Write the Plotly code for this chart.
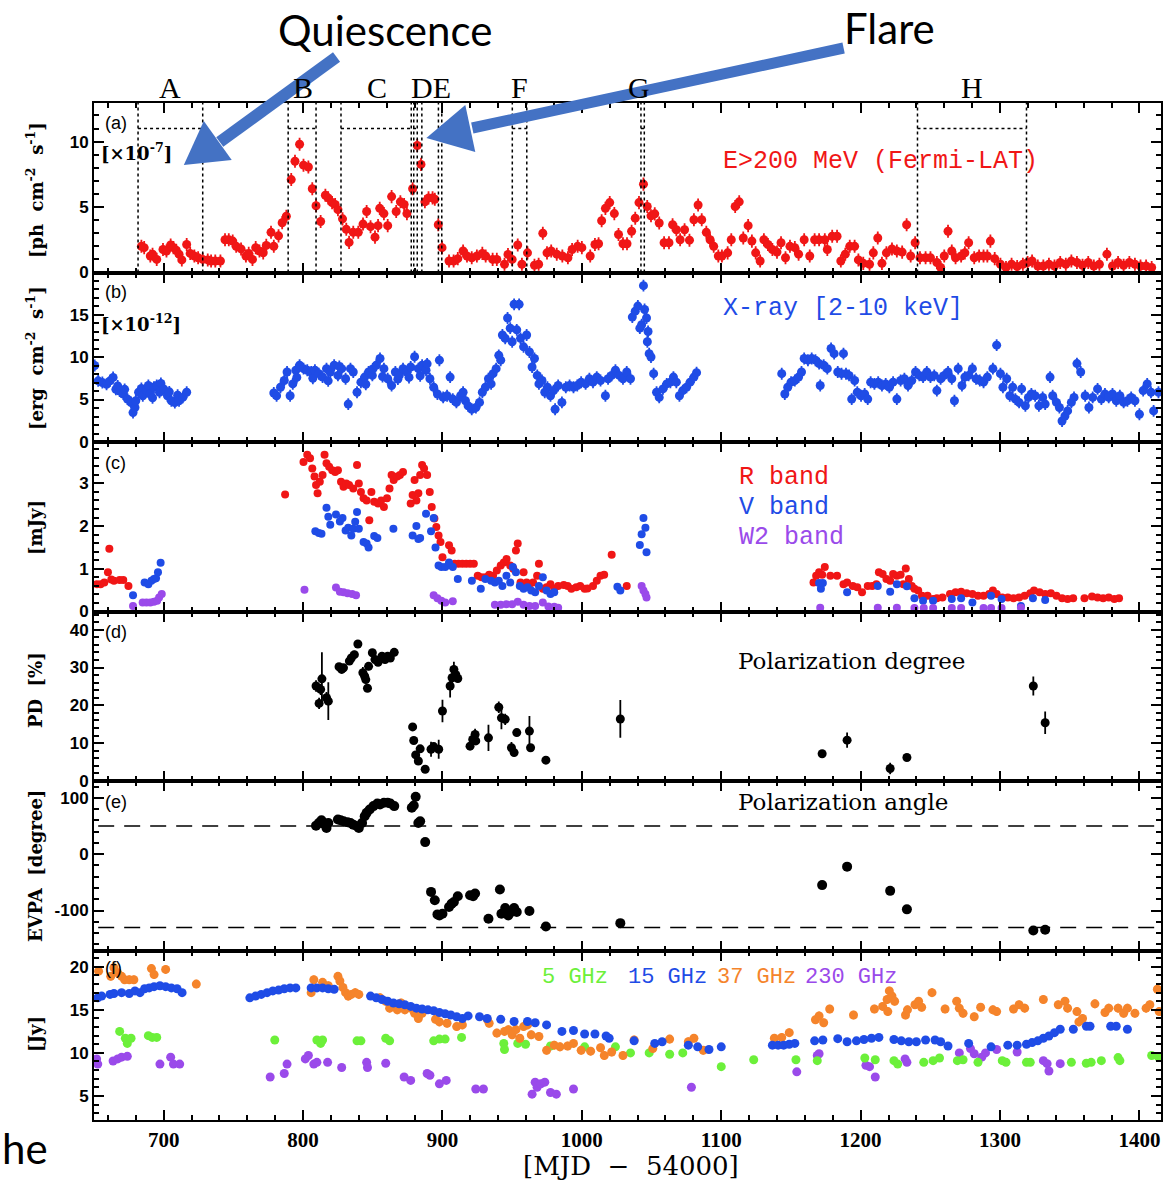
import plotly.graph_objects as go
from plotly.subplots import make_subplots

# ---------------- data ----------------
# (a) gamma-ray flux E>200 MeV [1e-7 ph cm-2 s-1]
gam_x = [684, 686, 690.4, 692, 695, 699.5, 702, 705, 707, 709,
         711, 713, 716.5, 719, 722, 724.7, 728, 731.6, 734, 737,
         740.7, 744, 746.7, 749.5, 752, 755.5, 759, 761, 763.7, 766,
         768.7, 771.4, 773.6, 777, 779, 782.4, 785, 788, 791.5, 794.2,
         797.5, 800.3, 803.8, 806.6, 809.3, 812.6, 816, 818, 820.8, 823,
         825, 828.3, 831, 833, 836, 839.6, 843, 845.6, 848.4, 851.6,
         853.8, 855, 858, 860.7, 863.5, 866.8, 869.8, 872.5, 874.5, 878.6,
         881.9, 884.6, 887.4, 890, 892.9, 894.5, 897, 899.7, 904.7, 908,
         911, 914.8, 917.6, 921, 924.7, 928.6, 931, 936, 939, 944.5,
         947, 950, 954, 957, 961, 966, 969, 972, 975, 978,
         982, 986, 990, 993, 997, 1000, 1006, 1009.4, 1012, 1014.2,
         1016.9, 1020, 1023.3, 1026.3, 1029.5, 1032.4, 1035.7, 1038.3, 1041, 1044.2,
         1046.9, 1049.6, 1052.3, 1055.5, 1059, 1062.5, 1065.1, 1067.8, 1070.5, 1073.7,
         1077.2, 1080.4, 1083.4, 1086, 1089.3, 1092, 1094.6, 1097.9, 1100.5, 1104.6,
         1107.2, 1110, 1112.9, 1115.8, 1119.3, 1122, 1124.7, 1127.9, 1130.6, 1133.5,
         1136.7, 1140, 1142.9, 1146.1, 1149.3, 1152.8, 1155.5, 1159.5, 1163.5, 1167,
         1170.2, 1174.3, 1176.1, 1179.6, 1183.1, 1185.8, 1189, 1192.2, 1195.7, 1198.4,
         1201.9, 1206.4, 1209.1, 1212.3, 1215.3, 1218.5, 1222.5, 1226, 1229.8, 1233,
         1235.9, 1239.1, 1242.6, 1246.6, 1250.1, 1254.7, 1257.4, 1260, 1262.7, 1265.4,
         1268.1, 1272.1, 1274.8, 1277.5, 1281.5, 1285, 1288.2, 1290.9, 1293.1, 1296.2,
         1300.3, 1304.3, 1308.3, 1312.3, 1316.4, 1319.8, 1323, 1327.1, 1331.1, 1335.1,
         1339.1, 1343.2, 1347.2, 1351.2, 1355.2, 1359.2, 1363.3, 1367.3, 1371.3, 1376.7,
         1380.7, 1384.7, 1388.7, 1392.8, 1396.8, 1400.8, 1404.8, 1408.8]
gam_y = [2.0, 1.9, 1.26, 1.4, 1.0, 1.76, 1.64, 2.1, 1.9, 1.7,
         1.4, 0.96, 2.14, 1.46, 1.26, 1.13, 1.0, 0.96, 0.88, 0.88,
         0.88, 2.5, 2.5, 2.4, 2.0, 1.8, 1.26, 1.46, 1.0, 1.9,
         1.64, 1.5, 2.07, 3.07, 2.0, 2.8, 3.8, 4.3, 7.1, 8.5,
         9.8, 8.2, 8.06, 6.4, 5.1, 3.9, 5.9, 5.7, 5.34, 5.2,
         4.8, 4.1, 3.3, 2.3, 3.07, 3.07, 3.7, 4.66, 3.5, 2.7,
         3.58, 4.9, 4.5, 3.58, 5.8, 4.66, 5.4, 5.2, 4.5, 6.4,
         9.7, 8.26, 5.4, 5.7, 5.7, 5.6, 3.65, 1.9, 0.88, 0.88,
         1.06, 1.64, 1.26, 1.13, 1.26, 1.46, 1.26, 1.0, 1.0, 0.63,
         1.38, 1.0, 2.1, 0.63, 1.5, 0.55, 0.63, 3.0, 1.5, 1.64,
         1.4, 1.26, 1.13, 1.76, 2.0, 1.9, 1.26, 2.14, 2.2, 3.95,
         4.9, 5.34, 4.5, 2.9, 2.2, 2.2, 3.15, 4.15, 5.34, 6.75,
         5.04, 4.33, 4.48, 3.78, 2.27, 2.27, 3.65, 3.27, 2.5, 3.27,
         2.47, 4.03, 5.16, 4.03, 3.07, 2.5, 2.0, 1.26, 1.26, 1.5,
         2.5, 5.04, 5.4, 2.64, 3.58, 2.4, 1.5, 0.88, 2.5, 2.14,
         1.76, 1.56, 2.27, 1.13, 2.0, 1.9, 1.4, 2.5, 1.26, 2.5,
         2.5, 2.5, 1.76, 2.77, 2.77, 0.88, 1.4, 2.0, 2.0, 0.96,
         0.7, 0.63, 1.5, 2.64, 0.7, 1.5, 1.8, 1.64, 1.56, 3.65,
         1.26, 2.27, 1.13, 1.13, 1.13, 0.76, 0.38, 1.26, 3.15, 1.64,
         1.13, 1.26, 1.5, 2.27, 1.13, 1.26, 1.26, 1.26, 2.4, 1.06,
         0.63, 0.38, 0.63, 0.45, 0.63, 0.76, 0.88, 0.5, 0.5, 0.63,
         0.5, 0.76, 0.63, 0.88, 0.76, 0.55, 0.76, 0.5, 0.63, 1.4,
         0.5, 0.76, 0.55, 0.76, 0.63, 0.5, 0.5, 0.38]

# (b) X-ray 2-10 keV [1e-12 erg cm-2 s-1]
xr_x = [650.5, 653, 656, 659, 661.5, 663.7, 665.7, 667, 668.4, 671,
        672, 674, 676.6, 678, 679.4, 680, 682, 684, 685, 687.6,
        689, 690.4, 692, 693, 695, 697, 698, 700, 702.7, 704,
        705.5, 708, 710, 711, 713.7, 716.5,
        779, 781, 783.8, 786.5, 788.5, 790.7, 792.6, 794.8, 795.5, 797.5,
        800.3, 803, 805.8, 807, 808.5, 811.3, 814, 816.8, 818, 819.5,
        822.3, 825, 826, 827.7, 830.5, 832.4, 834, 836, 838.7, 841.5,
        844.2, 845, 847, 849.7, 850, 852.5, 855.2, 857, 858, 860.7,
        863.5, 866.2, 868, 869, 871.7, 874.5, 876, 877.2, 880, 882.7,
        884, 885.4, 888.2, 889, 891, 893.7, 896.4, 897.8, 900.5, 903.3,
        905.5, 907.4, 910, 913, 914.8, 916.5, 918.4, 921, 924, 926.6,
        928.6, 930.8, 933, 934.9, 936.3, 938.5, 940.4, 941.8, 943, 945,
        946.7, 948.6, 950, 951.4, 953.3, 955, 956, 958.2, 960.4, 962.4,
        964.3, 966, 968, 969.2, 971.4, 973.4, 975.3, 977.5, 979.7, 980.8,
        983, 985.7, 988.5, 991.2, 994, 996.7, 999.5,
        1002.7, 1005.4, 1008, 1010.7, 1013.4, 1016.9, 1018.8, 1021.4, 1024.1, 1026.8,
        1029.5, 1032.2, 1034.9, 1036.2, 1038.3, 1040.2, 1041.6, 1042.9, 1044.2, 1045,
        1046.4, 1047.5, 1047, 1048.3, 1049.6, 1051.5, 1053.6, 1055.5, 1058.2, 1060.9,
        1063.5, 1065.7, 1067.8, 1070, 1072.4, 1075.1, 1077.7, 1080.4, 1082.3,
        1143.4, 1145.6, 1147.7, 1150.1, 1152.8, 1155.5, 1157.6, 1159.5, 1162.2, 1164.9,
        1167.6, 1170.2, 1171, 1173.5, 1176.1, 1178.8, 1181, 1183.6, 1186.3, 1187.7,
        1189.5, 1191.7, 1193.6, 1195.7, 1197.6, 1200.3, 1202.9, 1205.1, 1207.2, 1209.9,
        1212.6, 1215.3, 1218, 1220.6, 1223.3, 1226, 1228.7, 1231.4, 1234, 1236.7,
        1239.4, 1242.1, 1244.8, 1247.5, 1250.1, 1252.8, 1254.7, 1257.4, 1260, 1262.7,
        1265.4, 1267.3, 1270, 1272.7, 1274.8, 1277.5, 1280.2, 1282.8, 1285.5, 1288.2,
        1290.9, 1294.9, 1297.6, 1300.3, 1302.1, 1304.8, 1307, 1309.1, 1311, 1313.7,
        1315.5, 1318.2, 1320.4, 1322.5, 1325.2, 1327.9, 1330.6, 1332.4, 1335.9, 1337.8,
        1340.5, 1342.6, 1344.5, 1346.6, 1348.5, 1351.2, 1353.1, 1355.2, 1357.9, 1361.1,
        1363.8, 1366.5, 1370, 1372.7, 1375.3, 1378, 1380.7, 1383.4, 1386, 1388.7,
        1391.4, 1394.1, 1396.8, 1400, 1402.7, 1405.6, 1408.3, 1410.2, 1413.7]
xr_y = [9.0, 7.2, 7.0, 6.8, 7.2, 7.6, 6.2, 6.6, 6.0, 5.65,
        6.2, 5.05, 4.65, 3.46, 4.06, 4.85, 5.85, 6.3, 5.45, 6.05,
        6.65, 5.65, 5.2, 6.45, 6.65, 5.85, 6.9, 6.25, 5.45, 5.9,
        4.85, 4.65, 5.5, 4.85, 5.25, 5.85,
        5.77, 5.45, 6.45, 7.24, 8.24, 5.45, 6.84, 8.44, 7.6, 9.03,
        8.63, 8.44, 8.24, 7.5, 8.44, 8.04, 7.64, 8.63, 7.2, 8.24,
        9.03, 7.84, 8.9, 8.63, 7.44, 4.46, 8.63, 8.24, 5.85, 7.04,
        7.64, 6.8, 8.24, 7.84, 8.6, 9.03, 9.83, 7.7, 8.63, 7.44,
        6.65, 8.24, 7.4, 7.84, 8.63, 8.24, 7.6, 8.83, 10.03, 8.63,
        7.8, 9.03, 8.44, 9.2, 7.44, 6.45, 5.65, 9.63, 5.25, 5.45,
        7.64, 5.05, 4.66, 5.45, 5.85, 4.85, 4.26, 3.86, 4.06, 4.66,
        5.85, 6.45, 7.44, 6.84, 8.04, 8.63, 10.2, 9.63, 12.6, 12.2,
        14.6, 13.4, 11.8, 16.2, 13.2, 16.2, 12.2, 11.2, 12.6, 10.6,
        8.83, 9.83, 7.84, 6.84, 7.24, 5.85, 6.45, 5.45, 6.05, 3.86,
        6.65, 4.66, 6.45, 6.65, 6.45, 6.65, 7.04,
        6.84, 7.44, 7.04, 7.64, 7.24, 5.45, 7.44, 7.84, 8.44, 7.84,
        7.44, 8.24, 7.44, 14.7, 15.4, 16.0, 13.4, 13.8, 18.4, 15.6,
        14.6, 13.0, 11.8, 10.4, 10.0, 8.04, 5.85, 5.25, 6.25, 6.84,
        7.04, 7.64, 7.04, 5.45, 6.05, 6.45, 7.04, 7.64, 8.16,
        8.04, 5.65, 6.45, 7.04, 7.24, 7.64, 8.24, 9.83, 9.63, 9.83,
        9.63, 9.23, 6.65, 9.03, 8.63, 11.0, 10.4, 8.24, 8.04, 10.4,
        8.04, 7.84, 5.05, 7.24, 5.85, 5.45, 5.65, 5.05, 7.04, 6.84,
        7.04, 6.65, 6.84, 6.45, 7.04, 5.05, 7.24, 7.44, 6.65, 7.24,
        8.24, 7.84, 7.64, 8.24, 7.64, 7.84, 6.05, 7.44, 7.84, 8.24,
        7.44, 4.86, 8.63, 6.65, 7.64, 7.84, 8.63, 7.44, 7.24, 7.04,
        7.64, 8.63, 11.4, 8.04, 6.45, 7.44, 5.45, 6.45, 5.05, 4.66,
        6.25, 4.26, 5.25, 5.65, 5.45, 4.26, 5.25, 4.46, 7.64, 5.45,
        4.66, 4.06, 2.47, 3.06, 3.66, 4.66, 5.25, 9.23, 8.24, 5.45,
        4.06, 5.25, 6.25, 5.05, 5.65, 5.25, 5.65, 4.86, 5.45, 4.66,
        4.86, 5.25, 4.86, 3.26, 6.05, 6.84, 5.85, 3.66, 5.85]

# (c) optical / UV flux [mJy]
r_x = [652, 654.7, 657.4, 660, 661, 662.4, 664.3, 668.4, 671, 674.7,
       787.1, 800.3, 803, 805, 806.6, 808.2, 809.3, 810.4, 812, 814,
       815.4, 816.8, 818.7, 820.9, 823, 825, 827.2, 829, 831, 833,
       836, 838.7, 840, 841.5, 843.4, 845.6, 847.5, 849, 851, 853.8,
       856, 858, 860.2, 862, 863.5, 865, 867.6, 869.5, 871.7, 877.2,
       878.6, 880, 881.3, 882.7, 884, 885.4, 886.8, 889, 890.9, 892.3,
       894.2, 895.6, 897.2, 898.6, 900, 904.7, 906.6, 908.8, 911.5, 914.3,
       917, 919.8, 922.5, 925.3, 928, 930.8, 933.5, 936.3, 939, 941.8,
       944, 946, 948.6, 950.8, 952.7, 954, 956, 958.2, 960.4, 962.4,
       965, 967.9, 969.2, 972, 974.7, 977.5, 980.2, 983, 987, 989.8,
       992.5, 996, 998.8, 1002, 1004, 1008, 1010.7, 1013.4, 1016, 1021.4,
       1032.2, 1166.2, 1168.1, 1170.2, 1172.4, 1174.3, 1178.3, 1183.1, 1187.7, 1190.3,
       1194.4, 1197.6, 1201, 1205.1, 1208.3, 1211.3, 1213.1, 1215.8, 1218.5, 1221.2,
       1223.3, 1226, 1228.7, 1230.6, 1232.4, 1234.6, 1236.7, 1238.6, 1241.3, 1244,
       1248, 1252, 1254.7, 1258.7, 1264.1, 1268.1, 1272.1, 1276.1, 1280.2, 1284.2,
       1288.2, 1292.2, 1294.9, 1297.6, 1301.6, 1305.6, 1309.7, 1313.7, 1317.7, 1321.7,
       1324.4, 1328.4, 1332.4, 1336.5, 1340.5, 1344.5, 1348.5, 1352.5, 1360.6, 1366,
       1370, 1374, 1378, 1382, 1385.4]
r_y = [0.64, 0.64, 0.68, 0.92, 1.47, 0.75, 0.72, 0.74, 0.74, 0.6,
       2.74, 3.5, 3.67, 3.59, 3.35, 3.16, 2.96, 2.77, 3.04, 3.2,
       3.67, 3.47, 3.39, 3.31, 3.27, 3.31, 3.04, 2.92, 3.0, 2.96,
       2.88, 3.43, 3.0, 2.8, 2.65, 2.6, 2.14, 2.8, 2.57, 2.53,
       2.6, 2.45, 2.65, 2.88, 3.2, 3.08, 3.16, 3.2, 3.27, 2.53,
       2.73, 3.08, 2.6, 2.77, 3.2, 3.43, 3.35, 3.2, 2.8, 2.45,
       2.18, 1.98, 1.78, 1.63, 1.27, 1.55, 1.43, 1.12, 1.12, 1.12,
       1.12, 1.12, 1.12, 0.84, 0.8, 0.8, 0.86, 0.84, 0.96, 1.08,
       1.15, 1.23, 1.08, 1.0, 1.43, 1.59, 0.68, 0.92, 0.68, 0.64,
       0.68, 0.84, 1.12, 0.53, 0.57, 0.64, 0.53, 0.6, 0.62, 0.6,
       0.53, 0.57, 0.6, 0.53, 0.54, 0.6, 0.72, 0.84, 0.86, 1.33,
       0.6, 0.68, 0.84, 0.92, 0.86, 1.04, 0.84, 0.84, 0.64, 0.68,
       0.6, 0.57, 0.45, 0.6, 0.6, 0.64, 0.92, 0.88, 0.76, 0.72,
       0.88, 0.84, 0.86, 0.64, 1.01, 0.76, 0.6, 0.53, 0.49, 0.37,
       0.37, 0.29, 0.31, 0.33, 0.41, 0.45, 0.46, 0.43, 0.41, 0.37,
       0.37, 0.41, 0.49, 0.41, 0.33, 0.33, 0.31, 0.33, 0.37, 0.43,
       0.49, 0.45, 0.41, 0.43, 0.37, 0.31, 0.29, 0.31, 0.31, 0.35,
       0.33, 0.31, 0.33, 0.29, 0.31]

v_x = [678, 686.3, 689, 691.2, 693, 694.5, 695.9, 697.8,
       808.8, 811.3, 813.2, 816.8, 818.1, 819.5, 823.6, 826.4, 828.3, 830.5,
       832.4, 834.6, 836, 837.4, 838.7, 840, 843.4, 845.6, 847, 851,
       853.3, 864.8, 878.6, 881.3, 882.7, 884, 888.2, 891.8, 893.7, 895,
       897.2, 899.2, 902, 904.7, 907.4, 911, 921.1, 927.5, 930.8, 934.9,
       937.6, 940.4, 943, 945.9, 948.6, 950.5, 952.7, 955.5, 958.2, 961,
       963.7, 966.5, 969.2, 972, 974.7, 977.5, 980.2,
       1025.5, 1027.6, 1041.6, 1042.9, 1044.2, 1045.6, 1046.4,
       1170.2, 1171.5, 1172.9, 1190.3, 1212.3, 1221.2, 1226, 1233.2, 1238.6, 1244.8,
       1252, 1265.4, 1272.1, 1280.2, 1293.6, 1301.1, 1315, 1323.6, 1332.4]
v_y = [0.38, 0.68, 0.64, 0.72, 0.76, 0.78, 0.92, 1.14,
       1.88, 1.84, 1.82, 2.43, 2.22, 2.03, 2.27, 2.11, 2.19, 1.9,
       1.96, 1.78, 1.94, 2.1, 2.33, 1.94, 1.63, 1.59, 1.5, 1.77,
       1.72, 1.94, 1.78, 2.0, 1.7, 1.72, 2.29, 1.88, 2.19, 1.5,
       1.08, 1.04, 1.04, 1.15, 1.04, 0.76, 0.72, 0.53, 0.76, 0.72,
       0.68, 0.72, 0.6, 0.84, 0.68, 1.04, 0.92, 0.6, 0.53, 0.57,
       0.49, 0.45, 0.6, 0.8, 0.49, 0.41, 0.45,
       0.58, 0.49, 1.56, 1.81, 2.19, 1.96, 1.39,
       0.67, 0.53, 0.67, 0.45, 0.6, 0.46, 0.64, 0.59, 0.31, 0.25,
       0.25, 0.29, 0.31, 0.21, 0.37, 0.29, 0.13, 0.31, 0.27]

w2_x = [678, 684.9, 687.6, 690.4, 693, 695.3, 696.7, 698.6,
        801, 823.6, 826.4, 829, 831.9, 835.2, 838,
        893.7, 896.4, 899.2, 902, 907.4,
        937.6, 941.8, 945.9, 950, 954, 958.2, 962.4, 966.5, 972, 976,
        980.2, 983, 1042.9, 1044.2, 1045.6, 1046.4,
        1171, 1212.3, 1226, 1238.6, 1245.3, 1252, 1265.4, 1272.1, 1288.2, 1293.6,
        1301.1, 1315]
w2_y = [0.13, 0.21, 0.21, 0.21, 0.23, 0.25, 0.33, 0.41,
        0.51, 0.56, 0.46, 0.45, 0.43, 0.41, 0.38,
        0.38, 0.31, 0.25, 0.21, 0.24,
        0.16, 0.16, 0.17, 0.17, 0.23, 0.16, 0.13, 0.13, 0.21, 0.12,
        0.11, 0.09, 0.6, 0.49, 0.41, 0.33,
        0.09, 0.09, 0.09, 0.08, 0.08, 0.08, 0.08, 0.08, 0.08, 0.08,
        0.08, 0.09]

# (d) polarization degree [%]
pd_x = [809.3, 811.5, 812.6, 813.5, 816.8, 818.1, 825.8, 827.7, 829, 833.2,
        834.6, 836.8, 839.3, 842.9, 844.2, 845, 846.2, 847, 849.7, 851.6,
        853.8, 856.6, 858.8, 860.7, 862.6, 865.4, 878.6, 879.4, 880.8, 882.7,
        884, 887.6, 891.8, 893.7, 897.3, 900, 905.5, 906.9, 908.2, 909.6,
        911, 919.8, 921.7, 923.4, 923.9, 933, 940.4, 942.3, 945, 949.5,
        951.4, 953.3, 962.4, 963.2, 974.2, 1027.6, 1172.4, 1190.3, 1221.2, 1233.2,
        1323.9, 1332.4]
pd_y = [25.1, 20.5, 24.2, 27.0, 22.0, 21.1, 30.2, 29.5, 29.9, 31.7,
        32.5, 33.4, 36.2, 28.6, 27.7, 26.8, 24.5, 30.3, 33.9, 32.1,
        31.4, 33.0, 32.1, 33.0, 32.5, 34.0, 14.3, 10.7, 6.9, 5.3,
        8.5, 3.1, 8.4, 9.1, 8.4, 18.5, 25.1, 27.3, 29.5, 28.1,
        27.1, 9.2, 11.0, 12.3, 10.6, 11.4, 19.5, 16.7, 16.3, 8.8,
        7.5, 12.8, 13.2, 8.8, 5.5, 16.4, 7.2, 10.8, 3.3, 6.2,
        25.1, 15.4]
pd_err = [1.5, 1.5, 1.5, 7, 1.5, 5, 1, 1, 1, 1,
          1.5, 1, 1, 1.5, 1, 1, 1, 1, 1, 1,
          1, 1, 1, 1, 1, 1, 1, 1, 1, 1,
          1, 1, 2, 1, 2.5, 3, 3, 2, 2, 1.5,
          1, 1, 1, 1.5, 1, 3.5, 1.5, 3, 1.5, 1.5,
          1, 1, 4, 1, 0.5, 5, 0.5, 2, 1.5, 0.5,
          2.5, 3]

# (e) EVPA [degree]
evpa_x = [809.3, 811.3, 813.2, 814.8, 816.8, 818.1, 825, 826.9, 829, 831.9,
          834, 836, 838.7, 840, 842.3, 844.2, 845.6, 847.8, 850.5, 853.3,
          855.2, 858, 860.7, 862.6, 865.4, 878, 879.4, 880.8, 882.7, 884,
          887.6, 891.8, 894.5, 896.4, 897.8, 900, 904.7, 906.6, 908.2, 911,
          919.8, 922, 923.4, 933, 941.2, 942.3, 945, 947.2, 949.5, 951.4,
          953.3, 962.4, 974.2, 1027.6, 1172.4, 1190.3, 1221.2, 1233.2, 1323.9, 1332.4]
evpa_y = [50.7, 55.5, 60.3, 54.3, 46.6, 55.5, 61.5, 60.3, 58.5, 56.7,
          55.5, 52.5, 49.6, 46.6, 55.5, 67.5, 73.4, 79.4, 85.4, 90.1,
          88.4, 91.3, 91.3, 90.1, 85.4, 82.4, 86.6, 102, 55.5, 58.5,
          21.5, -66.9, -81.8, -106.9, -108.7, -105.7, -93.7, -87.8, -84.8, -74.6,
          -72.8, -74.6, -69.9, -114.6, -62.7, -105.7, -95.5, -108.7, -102.7, -95.5,
          -102.7, -100.9, -128.4, -122.4, -54.9, -22.1, -65.1, -97.9, -135.5, -134.3]
evpa_ref = [50, -130]

# (f) radio flux density [Jy]
r15_x = [652.7, 655.5, 661.5, 664.3, 669.8, 675.3, 679.4, 683, 686.3, 689.6,
         693.1, 697.3, 701.4, 705.5, 709.6, 713.2, 761.8, 765.9, 770, 774.2,
         778.3, 782.4, 786.5, 790.7, 794.8, 805.8, 809.9, 814, 818.1, 822.3,
         848.4, 852.5, 856.6, 860.7, 864.8, 868.9, 873, 877.2, 881.3, 885.4,
         889.6, 893.7, 897.8, 901.9, 906, 910.2, 914.3, 918.4, 926.6, 932.1,
         941.8, 951.4, 961, 966.5, 974.7, 985.7, 994, 1002, 1009.4, 1017.4,
         1019.6, 1037.5, 1052.3, 1057.6, 1076.4, 1083.1, 1091.2, 1100, 1136.7, 1140.8,
         1144.8, 1148.8, 1152.8, 1167, 1172.9, 1183.6, 1190.3, 1197, 1202.4, 1207.8,
         1213.1, 1223.9, 1229.2, 1234.6, 1240, 1246.6, 1253.4, 1257.4, 1262.7, 1277.5,
         1293.6, 1305.6, 1312.3, 1319, 1323, 1327.1, 1331.1, 1335.1, 1339.1, 1343.2,
         1352.6, 1362, 1364.6, 1379.4, 1383.4, 1391.4]
r15_y = [16.4, 16.6, 16.8, 16.9, 17.0, 16.9, 17.2, 17.0, 17.45, 17.55,
         17.7, 17.8, 17.7, 17.55, 17.45, 17.0, 16.4, 16.6, 16.8, 17.0,
         17.2, 17.3, 17.45, 17.55, 17.55, 17.55, 17.55, 17.55, 17.45, 17.4,
         16.6, 16.4, 16.2, 16.0, 15.8, 15.7, 15.6, 15.4, 15.2, 15.1,
         15.0, 14.9, 14.7, 14.55, 14.4, 14.2, 14.0, 14.3, 14.2, 14.0,
         13.9, 13.65, 13.65, 13.5, 13.25, 12.5, 12.6, 12.2, 12.2, 11.96,
         11.7, 11.4, 11.1, 11.3, 10.9, 10.7, 10.4, 10.7, 10.9, 10.9,
         10.9, 11.0, 11.1, 11.4, 11.5, 11.65, 11.3, 11.4, 11.55, 11.7,
         11.8, 11.55, 11.4, 11.3, 11.3, 11.5, 11.5, 11.3, 10.8, 11.1,
         10.7, 10.9, 10.9, 11.0, 11.2, 11.4, 11.7, 11.96, 12.35, 12.75,
         12.75, 13.1, 13.1, 13.1, 13.1, 12.75]

r37_x = [653.3, 662, 664.3, 667, 669.8, 672, 675.3, 678.6, 691.2, 693.1,
         701.4, 723.4, 805.8, 807.7, 814, 818.1, 825, 826.4, 828.6, 830.5,
         832.4, 834.6, 837.4, 840, 855.2, 859.3, 862.1, 864.8, 867.6, 870.3,
         873, 877.2, 880, 882.7, 885.4, 895, 897.8, 903.3, 910.2, 914.3,
         932.1, 933.5, 939, 944.5, 947.3, 950, 952.7, 955.5, 958.2, 961,
         963.7, 969.2, 974.7, 980.2, 984.3, 989.8, 994, 999.5, 1006.3, 1013.4,
         1016.1, 1021.4, 1029.5, 1037.5, 1050.9, 1063, 1076.4, 1080.4, 1087.1, 1138.1,
         1143.4, 1148.8, 1167.6, 1170.2, 1173.5, 1177.8, 1194.9, 1209.9, 1215.8, 1219,
         1220.6, 1222.5, 1224.4, 1219.5, 1232.2, 1233.6, 1239, 1241.6, 1243.8, 1251.2,
         1260.6, 1268.9, 1270.8, 1273.5, 1281.5, 1286.1, 1294.9, 1297.6, 1309.7, 1313.7,
         1317.7, 1331.1, 1341.8, 1346.6, 1348.5, 1355.2, 1356.6, 1359.2, 1368.1, 1375.3,
         1378, 1384.7, 1388.7, 1391.4, 1396.8, 1404.8, 1407.5, 1412.9, 1414.2]
r37_y = [19.5, 18.9, 19.9, 19.3, 18.9, 18.5, 18.5, 18.5, 19.8, 19.1,
         19.7, 18.0, 17.0, 18.5, 18.2, 17.8, 18.9, 18.35, 17.6, 17.0,
         16.6, 16.8, 17.0, 16.8, 16.4, 16.0, 15.2, 15.6, 15.0, 15.8,
         15.0, 15.2, 14.6, 14.0, 14.6, 13.9, 13.6, 13.45, 13.06, 13.25,
         13.9, 13.45, 12.3, 12.5, 12.7, 12.1, 12.7, 11.7, 13.06, 13.25,
         12.1, 11.9, 10.3, 10.9, 10.7, 10.8, 11.1, 10.3, 10.2, 10.6,
         9.7, 10.1, 9.7, 11.5, 10.5, 11.6, 11.3, 11.7, 10.3, 11.7,
         11.8, 12.35, 13.85, 14.3, 13.5, 15.1, 14.4, 15.1, 15.4, 16.2,
         17.2, 16.6, 16.0, 14.8, 14.4, 15.0, 15.6, 16.0, 15.3, 17.0,
         15.1, 16.0, 15.2, 14.6, 14.2, 15.3, 15.0, 14.8, 15.1, 15.6,
         15.2, 16.2, 15.6, 16.0, 15.2, 14.8, 13.6, 14.0, 15.7, 14.7,
         15.2, 15.2, 14.6, 15.2, 14.6, 15.2, 15.6, 17.4, 14.8]

r5_x = [668.4, 672.5, 673.9, 676.6, 689, 691.8, 695, 779.7, 809.9, 812.6,
        814, 838.7, 841.5, 859.3, 862.1, 893.7, 897.8, 901.9, 913.7, 944,
        944.5, 954, 959.6, 977.5, 1002, 1024.1, 1034.9, 1048.3, 1063, 1072.4,
        1100, 1123.3, 1153.6, 1168.9, 1203, 1210.5, 1223.9, 1226.6, 1245.3, 1252,
        1256.6, 1269.4, 1273.5, 1284.2, 1301.6, 1304.3, 1319, 1321.7, 1351.2, 1361.9,
        1365.4, 1372.7, 1384.7, 1386, 1408.8, 1413.7]
r5_y = [12.5, 11.7, 11.1, 11.7, 12.0, 11.8, 11.8, 11.5, 11.5, 11.1,
        11.5, 11.4, 11.4, 11.7, 11.4, 11.4, 11.6, 11.6, 11.8, 11.1,
        10.4, 11.1, 11.0, 10.8, 10.7, 10.7, 10.0, 10.0, 9.84, 10.0,
        8.4, 9.2, 9.2, 9.1, 9.4, 9.2, 9.1, 8.7, 8.9, 9.1,
        9.4, 9.1, 9.2, 8.9, 9.1, 8.9, 8.9, 8.9, 8.9, 8.8,
        8.9, 9.1, 9.45, 9.1, 9.7, 9.5]

r230_x = [651.9, 652.7, 663.7, 667, 669.8, 673.9, 697.3, 705, 707, 711.5,
          776.4, 786.5, 788.5, 801.6, 803.8, 807.7, 809.9, 817.6, 827.7, 845.6,
          846.2, 859.3, 872.5, 877.2, 889, 891, 897.8, 902.7, 923.9, 929.4,
          964.3, 966.5, 967.9, 970.6, 973.4, 977.5, 981.7, 994, 1078.6, 1154.2,
          1168.9, 1170.2, 1203.8, 1206.4, 1210.5, 1231.9, 1233.2, 1270.8, 1278.8, 1281.5,
          1286.9, 1289.6, 1297.6, 1312.3, 1331.1, 1333.8, 1335.1, 1343.2]
r230_y = [9.3, 8.7, 9.06, 9.3, 9.5, 9.6, 8.7, 9.5, 8.7, 8.7,
          7.2, 7.6, 8.7, 9.3, 9.7, 8.7, 8.9, 8.9, 8.3, 8.9,
          8.3, 8.8, 7.2, 6.8, 7.6, 7.4, 6.4, 6.8, 5.8, 5.8,
          5.2, 6.6, 6.0, 6.4, 6.6, 5.4, 5.2, 5.8, 6.0, 7.8,
          9.7, 9.9, 8.55, 8.4, 7.2, 9.3, 8.9, 10.0, 10.5, 9.9,
          9.5, 10.0, 10.4, 10.1, 9.1, 8.75, 7.9, 8.75]

# activity periods (panel a dotted boxes)
period_names = ["A", "B", "C", "DE", "F", "G", "H"]
period_label_x = [704.4, 799.7, 852.7, 892, 955, 1041, 1279.7]
period_edges = [681.6, 728, 789.3, 809.3, 827.2, 877.6, 879.4, 881.9, 885.2,
                897.1, 899.5, 950.1, 960.5, 1042.4, 1044.8, 1240.8, 1319]
period_span_start = [681.6, 789.3, 827.2, 950.1, 1042.4, 1240.8]
period_span_end = [728, 809.3, 881.9, 960.5, 1044.8, 1319]
period_box_top = 11

# ---------------- colours ----------------
RED = "#f01616"
BLUE = "#1f4ce6"
PURPLE = "#9a4aea"
GREEN = "#6cf03a"
ORANGE = "#f5842b"
ARROW = "#4472c4"

W, H = 1168, 1187
ML, MR, MT, MB = 94, 5, 103, 67
PW, PH = W - ML - MR, H - MT - MB


def PX(X):
    return (X - ML) / PW


def PY(Y):
    return (H - MB - Y) / PH


fig = make_subplots(rows=6, cols=1, shared_xaxes=True, vertical_spacing=0)


def add_pts(row, x, y, color, size, err=None, errarr=None, thick=1.8):
    ey = None
    if err is not None:
        ey = dict(type="constant", value=err, color=color, thickness=thick, width=0)
    if errarr is not None:
        ey = dict(type="data", array=errarr, color=color, thickness=thick, width=0)
    fig.add_trace(go.Scatter(x=x, y=y, mode="markers",
                             marker=dict(color=color, size=size, line=dict(width=0)),
                             error_y=ey, hoverinfo="skip"), row=row, col=1)


add_pts(1, gam_x, gam_y, RED, 9, err=0.5)
add_pts(2, xr_x, xr_y, BLUE, 9, err=0.7)
add_pts(3, r_x, r_y, RED, 8, err=0.07)
add_pts(3, v_x, v_y, BLUE, 8, err=0.04)
add_pts(3, w2_x, w2_y, PURPLE, 8, err=0.02)
add_pts(4, pd_x, pd_y, "black", 9, errarr=pd_err)
add_pts(5, evpa_x, evpa_y, "black", 10, err=2)
add_pts(6, r230_x, r230_y, PURPLE, 9, err=0.4)
add_pts(6, r5_x, r5_y, GREEN, 9, err=0.25)
add_pts(6, r37_x, r37_y, ORANGE, 9, err=0.5)
add_pts(6, r15_x, r15_y, BLUE, 9, err=0.2)

fig.update_layout(width=W, height=H, margin=dict(l=ML, r=MR, t=MT, b=MB),
                  plot_bgcolor="white", paper_bgcolor="white", showlegend=False)

ytickfont = dict(family="Liberation Sans", size=17, color="black", weight="bold")
for r in range(1, 7):
    fig.update_xaxes(range=[650, 1415.5], dtick=100, tick0=0, ticks="inside", ticklen=10,
                     tickwidth=2, tickcolor="black",
                     minor=dict(dtick=20, ticks="inside", ticklen=5, tickwidth=1.5, tickcolor="black"),
                     showline=True, linewidth=2, linecolor="black", mirror="ticks",
                     showgrid=False, zeroline=False, row=r, col=1)
fig.update_xaxes(showticklabels=True,
                 tickfont=dict(family="Liberation Serif", size=21, color="black", weight="bold"),
                 row=6, col=1)

yspec = [
    ([0, 12.95], [0, 5, 10], 1),
    ([0, 19.95], [0, 5, 10, 15], 1),
    ([0, 3.97], [0, 1, 2, 3], 0.2),
    ([0, 44.8], [0, 10, 20, 30, 40], 2),
    ([-171, 130], [-100, 0, 100], 20),
    ([2.2, 21.9], [5, 10, 15, 20], 1),
]
for i, (rng, tv, mdt) in enumerate(yspec, start=1):
    fig.update_yaxes(range=rng, tickvals=tv, ticktext=[str(v) for v in tv], ticks="inside",
                     ticklen=10, tickwidth=2, tickcolor="black",
                     minor=dict(dtick=mdt, ticks="inside", ticklen=5, tickwidth=1.5, tickcolor="black"),
                     showline=True, linewidth=2, linecolor="black", mirror="ticks",
                     showgrid=False, zeroline=False, tickfont=ytickfont, row=i, col=1)

# dotted period boxes in panel (a)
for e in period_edges:
    fig.add_shape(type="line", xref="x", yref="y domain", x0=e, x1=e, y0=0, y1=1,
                  line=dict(color="black", width=1.5, dash="dot"))
for s, e in zip(period_span_start, period_span_end):
    fig.add_shape(type="line", xref="x", yref="y", x0=s, x1=e, y0=period_box_top, y1=period_box_top,
                  line=dict(color="black", width=1.5, dash="dot"))

# EVPA reference dashed lines
for v in evpa_ref:
    fig.add_shape(type="line", xref="x5", yref="y5", x0=653, x1=1411, y0=v, y1=v,
                  line=dict(color="black", width=1.5, dash="16px,10px"))

ann = []
# y-axis titles
ytitles = [("[ph  cm<sup>-2</sup>  s<sup>-1</sup>]", 190), ("[erg  cm<sup>-2</sup>  s<sup>-1</sup>]", 358),
           ("[mJy]", 528), ("PD  [%]", 690), ("EVPA  [degree]", 866), ("[Jy]", 1034)]
for t, yc in ytitles:
    ann.append(dict(text=t, x=PX(35), y=PY(yc), xref="paper", yref="paper", textangle=-90,
                    showarrow=False, xanchor="center", yanchor="middle",
                    font=dict(family="DejaVu Serif", size=18, color="black", weight="bold")))
# panel labels
for lab, yc in zip(["(a)", "(b)", "(c)", "(d)", "(e)", "(f)"], [123, 292, 463, 632, 802, 968]):
    ann.append(dict(text=lab, x=PX(103), y=PY(yc), xref="paper", yref="paper", showarrow=False,
                    xanchor="left", yanchor="middle",
                    font=dict(family="Liberation Sans", size=18, color="black")))
for t, yc in [("[×10<sup>-7</sup>]", 152), ("[×10<sup>-12</sup>]", 323)]:
    ann.append(dict(text=t, x=PX(99), y=PY(yc), xref="paper", yref="paper", showarrow=False,
                    xanchor="left", yanchor="middle",
                    font=dict(family="DejaVu Serif", size=18, color="black", weight="bold")))
mono = "Liberation Mono"
for t, xl, yc, col, sz in [("E>200 MeV (Fermi-LAT)", 722, 162, RED, 25),
                           ("X-ray [2-10 keV]", 722, 308, BLUE, 25),
                           ("R band", 738, 477, RED, 25),
                           ("V band", 738, 507, BLUE, 25),
                           ("W2 band", 738, 537, PURPLE, 25),
                           ("5 GHz", 541, 977, GREEN, 22),
                           ("15 GHz", 627, 977, BLUE, 22),
                           ("37 GHz", 716, 977, ORANGE, 22),
                           ("230 GHz", 804, 977, PURPLE, 22)]:
    ann.append(dict(text=t, x=PX(xl), y=PY(yc), xref="paper", yref="paper", showarrow=False,
                    xanchor="left", yanchor="middle", font=dict(family=mono, size=sz, color=col)))
for t, yc in [("Polarization degree", 661), ("Polarization angle", 802)]:
    ann.append(dict(text=t, x=PX(737), y=PY(yc), xref="paper", yref="paper", showarrow=False,
                    xanchor="left", yanchor="middle",
                    font=dict(family="DejaVu Serif", size=23, color="black")))
# x-axis title
ann.append(dict(text="[MJD  −  54000]", x=PX(632), y=PY(1166), xref="paper", yref="paper",
                showarrow=False, xanchor="center", yanchor="middle",
                font=dict(family="DejaVu Serif", size=26, color="black")))
# period letters
for n, xv in zip(period_names, period_label_x):
    ann.append(dict(text=n, x=xv, y=PY(88), xref="x", yref="paper", showarrow=False,
                    xanchor="center", yanchor="middle",
                    font=dict(family="Liberation Serif", size=30, color="black")))
# callouts
ann.append(dict(text="Quiescence", x=PX(386), y=PY(30), xref="paper", yref="paper", showarrow=False,
                xanchor="center", yanchor="middle", font=dict(family="Lato", size=42, color="black")))
ann.append(dict(text="Flare", x=PX(891), y=PY(28), xref="paper", yref="paper", showarrow=False,
                xanchor="center", yanchor="middle", font=dict(family="Lato", size=42, color="black")))
ann.append(dict(text="he", x=PX(0), y=PY(1148), xref="paper", yref="paper", showarrow=False,
                xanchor="left", yanchor="middle", font=dict(family="Lato", size=42, color="black")))
fig.update_layout(annotations=ann)


def arrow(tail, base, tip, c1, c2, width):
    fig.add_shape(type="line", xref="paper", yref="paper",
                  x0=PX(tail[0]), y0=PY(tail[1]), x1=PX(base[0]), y1=PY(base[1]),
                  line=dict(color=ARROW, width=width), layer="above")
    path = "M {} {} L {} {} L {} {} Z".format(PX(tip[0]), PY(tip[1]), PX(c1[0]), PY(c1[1]),
                                              PX(c2[0]), PY(c2[1]))
    fig.add_shape(type="path", xref="paper", yref="paper", path=path,
                  fillcolor=ARROW, line=dict(width=0), layer="above")


arrow((337, 57), (220, 142), (184, 165), (232, 160), (204, 121), 12)
arrow((845, 48), (473, 128), (427, 138), (476, 152), (466, 105), 11)

fig.write_html("out.html")
